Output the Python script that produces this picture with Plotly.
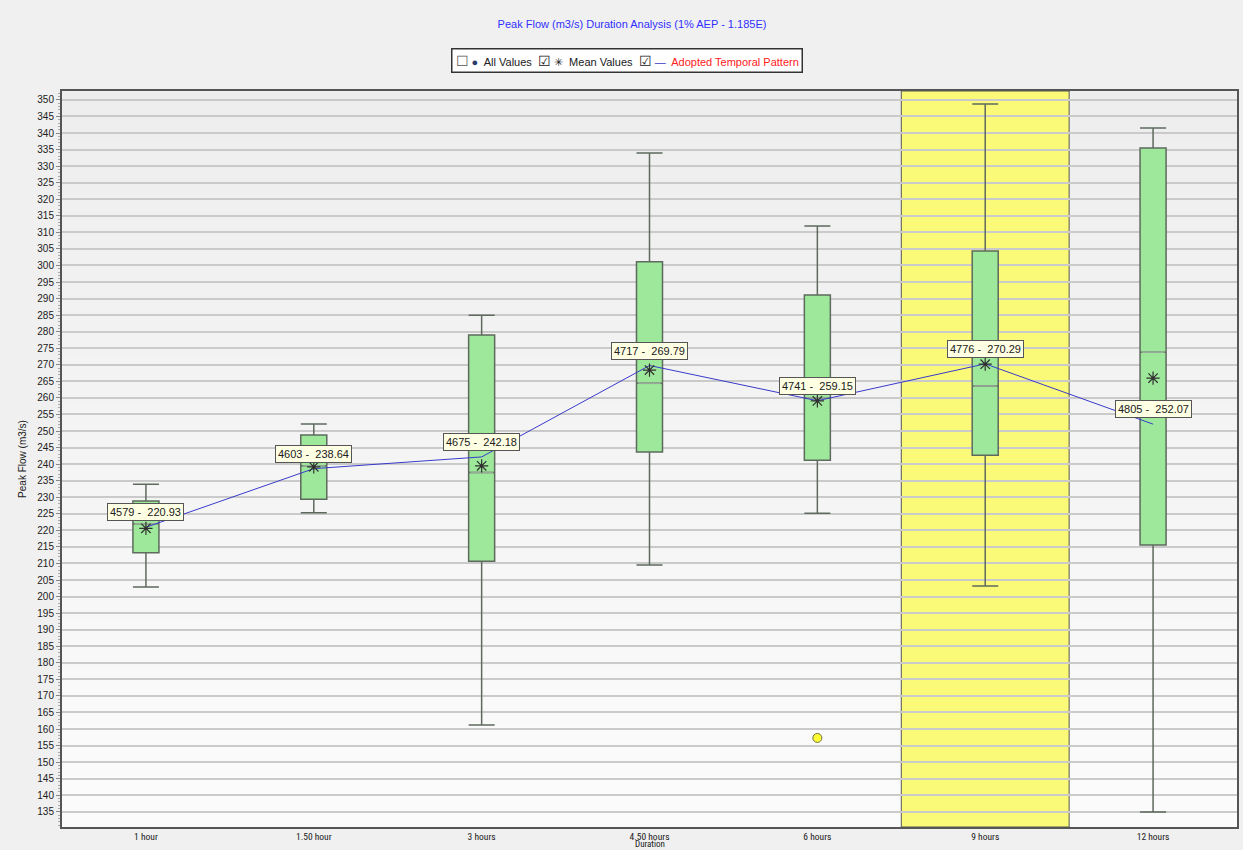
import plotly.graph_objects as go

# ---------------- data ----------------
categories = ["1 hour", "1.50 hour", "3 hours", "4.50 hours", "6 hours", "9 hours", "12 hours"]
whisker_low = [202.9, 225.3, 161.2, 209.5, 225.2, 203.2, 134.9]
q1_vals = [213.2, 229.4, 210.7, 243.7, 241.2, 242.7, 215.6]
median_vals = [222.0, 239.5, 237.5, 264.4, 260.0, 263.6, 273.8]
q3_vals = [228.9, 248.8, 279.0, 301.1, 291.1, 304.4, 335.5]
whisker_high = [233.9, 252.1, 285.0, 334.0, 311.9, 348.8, 341.5]
mean_vals = [220.6, 239.2, 239.5, 268.4, 259.1, 270.2, 266.0]
adopted_ids = [4579, 4603, 4675, 4717, 4741, 4776, 4805]
adopted_vals = [220.93, 238.64, 242.18, 269.79, 259.15, 270.29, 252.07]
outlier_cat = ["6 hours"]
outlier_vals = [157.3]
highlight_cat = "9 hours"

title_text = "Peak Flow (m3/s) Duration Analysis (1% AEP - 1.185E)"
y_title = "Peak Flow (m3/s)"
x_title = "Duration"

# ---------------- styling ----------------
BOX_W = 0.155
FONT = "Liberation Sans, Arial, sans-serif"
NARROW = "Liberation Sans Narrow, Roboto Condensed, Liberation Sans, Arial, sans-serif"
W, H = 1243, 850
ML, MR, MT, MB = 62, 6, 91, 23
PW, PH = W - ML - MR, H - MT - MB

xs = list(range(len(categories)))
pos = {c: i for i, c in enumerate(categories)}

fig = go.Figure()

# soft vertical gradient in the plotting area
NB = 14
for k in range(NB):
    g = int(238 + (251 - 238) * k / (NB - 1))
    fig.add_shape(type="rect", xref="paper", yref="paper", x0=0, x1=1,
                  y0=1 - (k + 1) / NB, y1=1 - k / NB,
                  fillcolor=f"rgb({g},{g},{g})", line=dict(width=0), layer="below")

fig.add_trace(go.Box(
    x=xs, q1=q1_vals, median=median_vals, q3=q3_vals,
    lowerfence=whisker_low, upperfence=whisker_high,
    width=BOX_W, whiskerwidth=1,
    fillcolor="#9de89a", line=dict(color="#5e6a5e", width=1.5),
    showlegend=False, hoverinfo="skip",
))

# lighter median lines
mx, my = [], []
for i, m in zip(xs, median_vals):
    mx += [i - BOX_W / 2 + 0.01, i + BOX_W / 2 - 0.01, None]
    my += [m, m, None]
fig.add_trace(go.Scatter(x=mx, y=my, mode="lines",
                         line=dict(color="#9aaa9a", width=1.5),
                         showlegend=False, hoverinfo="skip"))

# adopted temporal pattern line
fig.add_trace(go.Scatter(x=xs, y=adopted_vals, mode="lines",
                         line=dict(color="#3a3acc", width=1),
                         name="Adopted Temporal Pattern", showlegend=False))

# mean values
fig.add_trace(go.Scatter(x=xs, y=mean_vals, mode="markers",
                         marker=dict(symbol="asterisk-open", size=11, color="#303030",
                                     line=dict(color="#303030", width=1.2)),
                         name="Mean Values", showlegend=False))

# outliers
fig.add_trace(go.Scatter(x=[pos[c] for c in outlier_cat], y=outlier_vals, mode="markers",
                         marker=dict(symbol="circle", size=9, color="#ffff33",
                                     line=dict(color="#707040", width=1)),
                         name="All Values", showlegend=False))

# highlighted duration band
hi = pos[highlight_cat]
fig.add_shape(type="rect", xref="x", yref="paper", x0=hi - 0.5, x1=hi + 0.5, y0=0, y1=1,
              fillcolor="#fafa78", line=dict(color="#555555", width=1), layer="below")

# labels
for i, (lid, v) in enumerate(zip(adopted_ids, adopted_vals)):
    fig.add_annotation(x=i, y=v, text=f"{lid} -  {v:.2f}", showarrow=False, yshift=15,
                       font=dict(family=FONT, size=11, color="#202020"),
                       bgcolor="#ffffe4", bordercolor="#555555", borderwidth=1, borderpad=2)

# legend (drawn as a text box)
legend_text = ("<span style='font-size:14px;color:#555'>☐</span> <span style='color:#2a3a6a'>●</span>"
               "  All Values  <span style='font-size:14px'>☑</span> ✳  Mean Values  "
               "<span style='font-size:14px'>☑</span> "
               "<span style='color:#3a3acc'>—</span>  <span style='color:#ff2020'>Adopted Temporal Pattern</span>")
fig.add_annotation(xref="paper", yref="paper",
                   x=(626.5 - ML) / PW, y=(H - MB - 48) / PH,
                   text=legend_text, showarrow=False,
                   font=dict(family=FONT, size=11, color="#202020"),
                   bgcolor="#ffffff", bordercolor="#333333", borderwidth=1.5, borderpad=3)

# x-axis title as an annotation at the very bottom
fig.add_annotation(xref="paper", yref="paper", x=0.5, y=-(H - (H - MB)) / PH,
                   yanchor="bottom", text=x_title, showarrow=False, borderpad=0,
                   font=dict(family=NARROW, size=9, color="#202020"))

fig.update_layout(
    width=W, height=H,
    margin=dict(l=ML, r=MR, t=MT, b=MB, autoexpand=False),
    paper_bgcolor="#f0f0f0", plot_bgcolor="#f4f4f4",
    title=dict(text=title_text, x=632 / W, xanchor="center",
               y=1 - 24 / H, yanchor="middle",
               font=dict(family=FONT, size=11, color="#3030ff")),
    font=dict(family=FONT, size=11, color="#202020"),
)

fig.update_xaxes(range=[-0.5, len(categories) - 0.5], tickvals=xs, ticktext=categories,
                 showgrid=False, zeroline=False, automargin=False,
                 showline=True, linecolor="#555555", linewidth=2, mirror=True,
                 ticks="", tickfont=dict(family=NARROW, size=9.5))

fig.update_yaxes(range=[130.4, 352.7], dtick=5, tick0=0, automargin=False,
                 showgrid=True, gridcolor="#cacaca", gridwidth=2, zeroline=False,
                 showline=True, linecolor="#555555", linewidth=2, mirror=True,
                 ticks="outside", ticklen=4, tickcolor="#888888",
                 minor=dict(dtick=1, ticks="outside", ticklen=2, tickcolor="#aaaaaa", showgrid=False),
                 tickfont=dict(family=FONT, size=10),
                 title=dict(text=y_title, standoff=9, font=dict(family=FONT, size=10)))

fig.write_html("out.html", config={"displayModeBar": False},
               post_script="document.body.style.margin='0';document.body.style.overflow='hidden';")
